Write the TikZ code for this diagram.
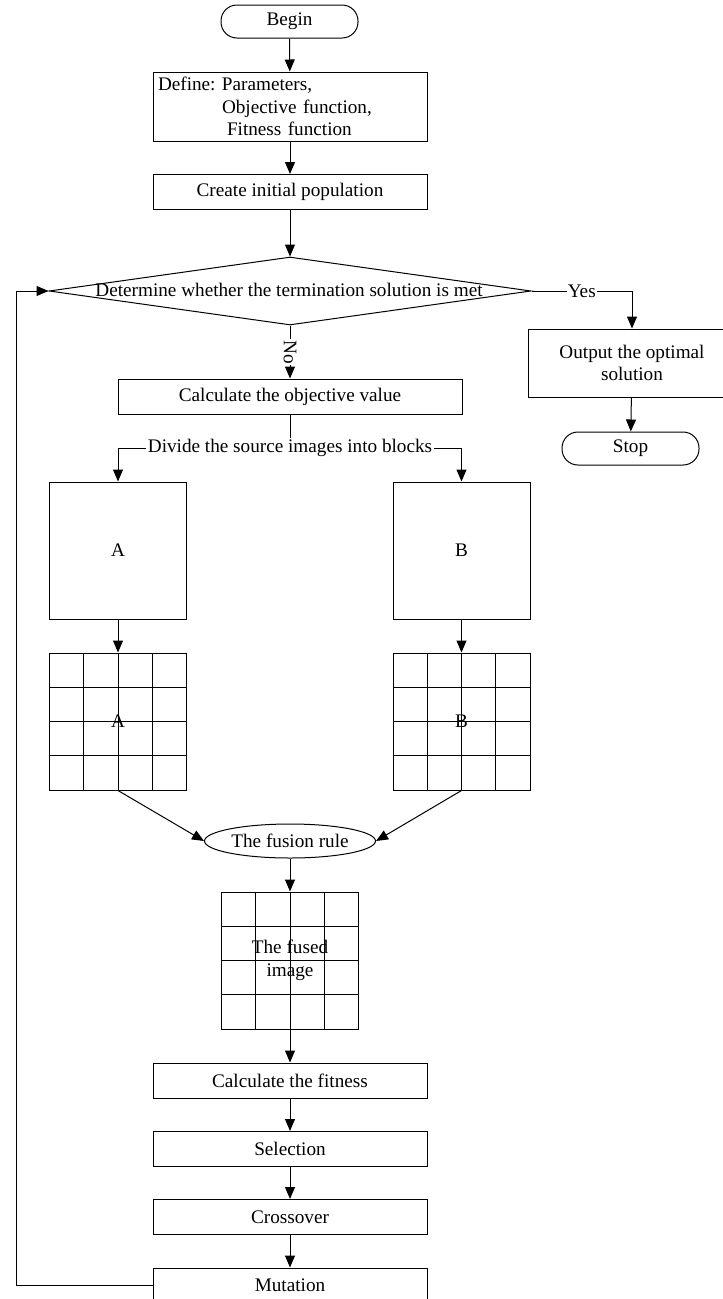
\documentclass[tikz,border=0pt]{standalone}
\usepackage{fontspec}
\setmainfont{Liberation Serif}
\frenchspacing
\usetikzlibrary{arrows.meta,shapes.geometric,calc}
\tikzset{
  txt/.style={font=\fontsize{19.2}{22.5}\selectfont},
  base/.style={draw, line width=1pt, inner sep=0pt, txt},
  proc/.style={base, rectangle, minimum height=35pt},
  term/.style={base, rectangle, rounded corners=16pt, minimum width=137pt, minimum height=33pt},
  imgbox/.style={base, rectangle, minimum width=137pt, minimum height=137pt},
  gridbox/.style={imgbox, path picture={
    \foreach \k in {1,2,3}{
      \draw[line width=1pt] ($(path picture bounding box.north west)!\k/4!(path picture bounding box.north east)$) -- ($(path picture bounding box.south west)!\k/4!(path picture bounding box.south east)$);
      \draw[line width=1pt] ($(path picture bounding box.north west)!\k/4!(path picture bounding box.south west)$) -- ($(path picture bounding box.north east)!\k/4!(path picture bounding box.south east)$);
    }}},
  conn/.style={line width=1pt, -{Triangle[length=12pt,width=10pt]}},
  plain/.style={line width=1pt},
  lbl/.style={txt, fill=white, inner sep=1pt},
}
\begin{document}
\begin{tikzpicture}[x=1pt, y=-1pt]
\useasboundingbox (0,0) rectangle (723,1299);
\begin{scope}
\clip (0,0) rectangle (723,1299);
\node[term] (begin) at (289.5,21.5) {Begin};
\node[proc, minimum width=274pt, minimum height=69pt, text width=264pt, align=left] (define) at (290,106.5)
  {Define: Parameters,\\\hspace*{64pt}Objective function,\\\hspace*{69pt}Fitness function};
\node[proc, minimum width=274pt] (create) at (290,192) {Create initial population};
\node[base, diamond, minimum width=482pt, minimum height=68pt] (dec) at (290,291) {};
\node[txt, inner sep=0pt] (dectext) at (289,290) {Determine whether the termination solution is met};
\node[proc, minimum width=208pt, minimum height=68pt, align=center] (output) at (632,363) {Output the optimal\\solution};
\node[term] (stop) at (630.5,448.5) {Stop};
\node[proc, minimum width=344pt] (calcobj) at (290,396.5) {Calculate the objective value};
\node[txt, inner xsep=2pt, inner ysep=1pt] (divide) at (290,448) {Divide the source images into blocks};
\node[imgbox] (A) at (118,550.5) {A};
\node[imgbox] (B) at (461.5,550.5) {B};
\node[gridbox] (gA) at (118,721.5) {A};
\node[gridbox] (gB) at (461.5,721.5) {B};
\node[base, ellipse, minimum width=171pt, minimum height=34pt] (fusion) at (290,841) {The fusion rule};
\node[gridbox, align=center] (fused) at (290,960.5) {The fused\\image};
\node[proc, minimum width=274pt] (fit) at (290,1080.5) {Calculate the fitness};
\node[proc, minimum width=274pt] (sel) at (290,1149) {Selection};
\node[proc, minimum width=274pt] (cross) at (290,1217) {Crossover};
\node[proc, minimum width=274pt] (mut) at (290,1285.5) {Mutation};
\coordinate (yc) at (632,291);
\coordinate (loop) at (16,1285.5);

\draw[conn] (begin) -- (define);
\draw[conn] (define) -- (create);
\draw[conn] (create) -- (dec.north);
\draw[conn] (dec.south) -- node[lbl, rotate=-90] {No} (calcobj.north);
\draw[conn] (dec.east) -- node[lbl] {Yes} (yc) -- (output.north);
\draw[conn] (output) -- (stop);
\draw[plain] (calcobj) -- (divide);
\draw[conn] (divide.west) -| (A.north);
\draw[conn] (divide.east) -| (B.north);
\draw[conn] (A) -- (gA);
\draw[conn] (B) -- (gB);
\draw[conn] (gA.south) -- (fusion.west);
\draw[conn] (gB.south) -- (fusion.east);
\draw[conn] (fusion) -- (fused);
\draw[conn] (fused) -- (fit);
\draw[conn] (fit) -- (sel);
\draw[conn] (sel) -- (cross);
\draw[conn] (cross) -- (mut);
\draw[conn] (mut.west) -- (loop) |- (dec.west);
\end{scope}
\end{tikzpicture}
\end{document}
